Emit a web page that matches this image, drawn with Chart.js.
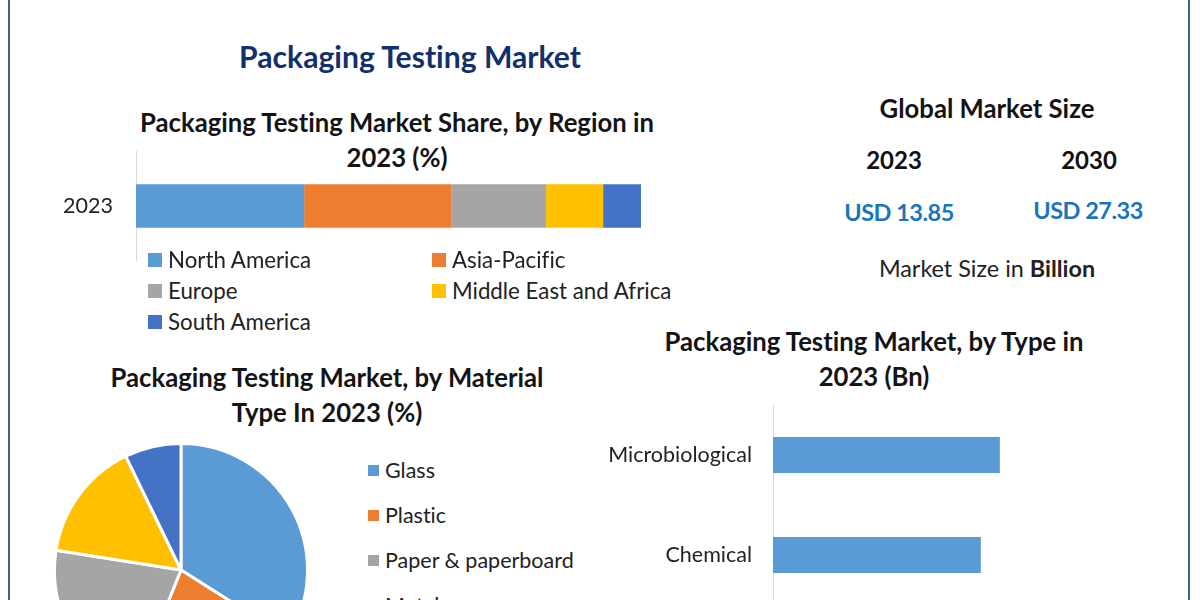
<!DOCTYPE html>
<html>
<head>
<meta charset="utf-8">
<title>Packaging Testing Market</title>
<script src="https://cdn.jsdelivr.net/npm/chart.js@4"></script>
<style>
html, body { margin: 0; padding: 0; background: #fff; width: 1200px; height: 600px; overflow: hidden; }
body { position: relative; font-family: Lato, sans-serif; color: #111; font-variant-ligatures: none; }
canvas { position: absolute; }
.frame { position: absolute; top: 0; width: 2px; height: 600px; background: #3d6580; }
.t { position: absolute; transform: translate(-50%, -50%); white-space: nowrap; text-align: center; }
.head { font-weight: 700; font-size: 25.7px; line-height: 34.5px; color: #141414; }
.main { font-weight: 700; font-size: 30.1px; color: #12306b; }
.year { font-weight: 700; font-size: 24px; }
.usd { font-weight: 700; font-size: 23.5px; color: #1b75b8; letter-spacing: -0.5px; }
.size { font-size: 23.4px; color: #222; }
.leg { position: absolute; color: #222; white-space: nowrap; transform: translateY(-50%); }
.sw { position: absolute; }
</style>
</head>
<body>
<div class="frame" style="left:8px"></div>
<div class="frame" style="left:1188px"></div>

<div class="t main" style="left:410px;top:56px">Packaging Testing Market</div>
<div class="t head" style="left:397px;top:139px">Packaging Testing Market Share, by Region in<br>2023 (%)</div>
<div class="t head" style="left:327px;top:394px">Packaging Testing Market, by Material<br>Type In 2023 (%)</div>
<div class="t head" style="left:874px;top:358px">Packaging Testing Market, by Type in<br>2023 (Bn)</div>

<div class="t head" style="left:987px;top:108px">Global Market Size</div>
<div class="t year" style="left:894px;top:159px">2023</div>
<div class="t year" style="left:1089px;top:159px">2030</div>
<div class="t usd" style="left:899px;top:212px">USD 13.85</div>
<div class="t usd" style="left:1088px;top:210px">USD 27.33</div>
<div class="t size" style="left:987px;top:268px">Market Size in <b>Billion</b></div>

<canvas id="regionChart" style="left:0;top:151px"></canvas>
<canvas id="materialChart" style="left:53px;top:442px"></canvas>
<canvas id="typeChart" style="left:600px;top:405px"></canvas>

<script>
const regionYears = ["2023"];
const regionNames = ["North America", "Asia-Pacific", "Europe", "Middle East and Africa", "South America"];
const regionShares = [33.3, 29.1, 18.8, 11.3, 7.5];

const materialNames = ["Glass", "Plastic", "Paper & paperboard", "Metal", "Others"];
const materialShares = [34, 22.1, 21.4, 15.3, 7.2];

const typeNames = ["Microbiological", "Chemical"];
const typeValues = [5.0, 4.58];

const colors = ["#5b9bd5", "#ed7d31", "#a5a5a5", "#ffc000", "#4472c4"];
const axisColor = "#d9d9d9";
const tickFont = { family: "Lato", size: 21.5 };

function addLegend(names, swatch, x, y, size, textGap, fontSize, textShift) {
    names.forEach((name, i) => {
        const pos = { x: x(i), y: y(i) };
        const sw = document.createElement("div");
        sw.className = "sw";
        sw.style.cssText = `left:${pos.x}px;top:${pos.y - size / 2}px;width:${size}px;height:${size}px;background:${swatch[i]}`;
        document.body.appendChild(sw);

        const label = document.createElement("div");
        label.className = "leg";
        label.innerText = name;
        label.style.left = (pos.x + textGap) + "px";
        label.style.top = (pos.y + textShift) + "px";
        label.style.fontSize = fontSize + "px";
        document.body.appendChild(label);
    });
}

function sizeCanvas(id, w, h) {
    const c = document.getElementById(id);
    c.width = w;
    c.height = h;
    c.style.width = w + "px";
    c.style.height = h + "px";
    return c;
}

// tick padding also pads the plot vertically, so drop that and fix the axis width
function fixAxis(width) {
    return s => {
        s.width = width;
        s.paddingTop = 0;
        s.paddingBottom = 0;
    };
}

new Chart(sizeCanvas("regionChart", 641, 110), {
    type: "bar",
    data: {
        labels: regionYears,
        datasets: regionNames.map((name, i) => ({
            label: name,
            data: [regionShares[i]],
            backgroundColor: colors[i],
            barPercentage: 0.395,
            categoryPercentage: 1
        }))
    },
    options: {
        indexAxis: "y",
        responsive: false,
        animation: false,
        plugins: { legend: { display: false }, tooltip: { enabled: false } },
        scales: {
            x: { stacked: true, display: false, min: 0, max: 100 },
            y: {
                stacked: true,
                afterFit: fixAxis(136),
                grid: { display: false },
                border: { color: axisColor },
                ticks: { color: "#222", font: tickFont, padding: 15 }
            }
        }
    }
});

new Chart(sizeCanvas("materialChart", 256, 256), {
    type: "pie",
    data: {
        labels: materialNames,
        datasets: [{
            data: materialShares,
            backgroundColor: colors,
            borderColor: "#fff",
            borderWidth: 3
        }]
    },
    options: {
        responsive: false,
        animation: false,
        plugins: { legend: { display: false }, tooltip: { enabled: false } }
    }
});

new Chart(sizeCanvas("typeChart", 536, 200), {
    type: "bar",
    data: {
        labels: typeNames,
        datasets: [{
            data: typeValues,
            backgroundColor: colors[0],
            barPercentage: 0.36,
            categoryPercentage: 1
        }]
    },
    options: {
        indexAxis: "y",
        responsive: false,
        animation: false,
        plugins: { legend: { display: false }, tooltip: { enabled: false } },
        scales: {
            x: { display: false, min: 0, max: 8 },
            y: {
                afterFit: fixAxis(173),
                grid: { display: false },
                border: { color: axisColor },
                ticks: { color: "#222", font: tickFont, padding: 13 }
            }
        }
    }
});

// two column legend under the stacked bar
addLegend(regionNames, colors, i => (i % 2 ? 432 : 148), i => 260 + 31 * Math.floor(i / 2), 14, 20, 22.3, -1);
// pie legend runs off the bottom of the page like the original
addLegend(materialNames, colors, () => 368, i => 470 + 45 * i, 11, 17, 21.5, 0);
</script>
</body>
</html>
